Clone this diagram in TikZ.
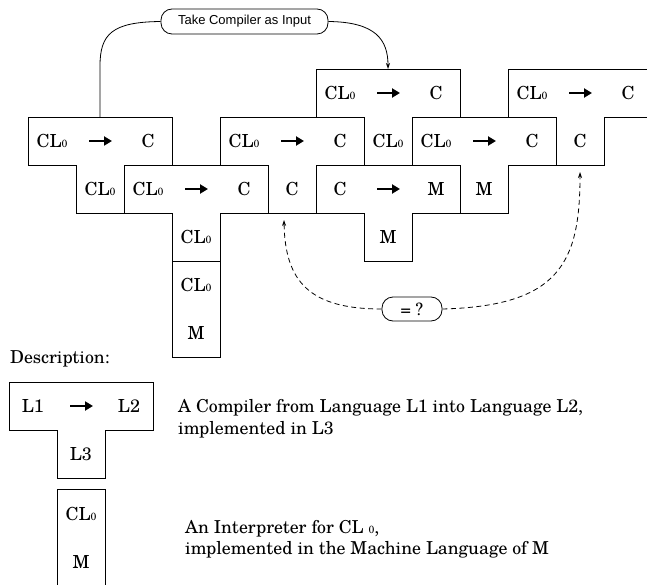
\documentclass[tikz,border=0pt]{standalone}
\usepackage{fontspec}
\setmainfont{TeX Gyre Schola}
\newfontfamily\tagfont{Liberation Sans}
\usetikzlibrary{arrows.meta}

% small index digit of the language name CL0
\newcommand\zsub{{\fontsize{10.5}{10.5}\selectfont 0}}
\newcommand\CLz{CL\zsub}

\tikzset{
  shape line/.style={draw=black, line width=0.8pt, line join=miter},
  lbl/.style={inner sep=0pt, font=\fontsize{18}{18}\selectfont},
  flow arrow/.style={line width=2.4pt, -{Triangle[length=8pt,width=9pt]}},
  tag/.style={draw, line width=0.8pt, rounded corners=11pt, inner sep=0pt},
  link/.style={line width=0.8pt},
  cmp link/.style={line width=0.8pt, dash pattern=on 5pt off 3.5pt, -{Stealth[length=6pt,width=4pt]}},
  desc/.style={anchor=base west, inner sep=0pt, font=\fontsize{17.8}{17.8}\selectfont},
}

% T-diagram: name, x, y (top left), source, target, implementation language, cell width
\newcommand\Tdiag[7]{%
  \draw[shape line] (#2,#3) -- ++(3*#7,0) -- ++(0,48) -- ++(-#7,0) -- ++(0,48)
    -- ++(-#7,0) -- ++(0,-48) -- ++(-#7,0) -- cycle;
  \node[lbl] (#1-src) at (#2+0.5*#7,#3+24) {#4};
  \node[lbl] (#1-dst) at (#2+2.5*#7,#3+24) {#5};
  \node[lbl] (#1-imp) at (#2+1.5*#7,#3+72) {#6};
  \coordinate (#1-top) at (#2+1.5*#7,#3);
  \draw[flow arrow] (#2+1.5*#7-11,#3+24) -- (#2+1.5*#7+12,#3+24);
}

\begin{document}
\begin{tikzpicture}[x=1pt,y=-1pt]
\useasboundingbox (0,0) rectangle (647,585);

% compiler chain
\Tdiag{ta}{28}{117}{\CLz}{C}{\CLz}{48}
\Tdiag{tb}{124}{165}{\CLz}{C}{\CLz}{48}
\Tdiag{tc}{220}{117}{\CLz}{C}{C}{48}
\Tdiag{td}{316}{69}{\CLz}{C}{\CLz}{48}
\Tdiag{te}{412}{117}{\CLz}{C}{M}{48}
\Tdiag{tf}{508}{69}{\CLz}{C}{C}{48}
\Tdiag{tg}{316}{165}{C}{M}{M}{48}

% interpreter under the chain
\draw[shape line] (172,261) rectangle (220,357);
\node[lbl] (ia-lang) at (196,285) {\CLz};
\node[lbl] (ia-mach) at (196,333) {M};

% annotations
\node[tag, minimum width=167pt, minimum height=25pt, font=\tagfont\fontsize{13}{13}\selectfont]
  (inp) at (244.5,21.5) {Take Compiler as Input};
\draw[link] (inp.west) .. controls (112,22) and (100,34) .. (100,66) -- (ta-top);
\draw[link, -{Stealth[length=6pt,width=4pt]}] (inp.east) .. controls (376,22) and (388,40) .. (td-top);

\node[tag, minimum width=60pt, minimum height=24pt, font=\fontsize{17}{17}\selectfont]
  (eq) at (412,309) {= ?};
\coordinate (cmpA) at (284,220);
\coordinate (cmpB) at (580,172);
\draw[cmp link] (eq.west) .. controls (310,309) and (285,282) .. (cmpA);
\draw[cmp link] (eq.east) .. controls (560,306) and (580,262) .. (cmpB);

% legend
\node[desc] (dtitle) at (10,363) {Description:};
\Tdiag{lt}{9}{382}{L1}{L2}{L3}{48}
\node[desc] (dcomp1) at (178,412) {A Compiler from Language L1 into Language L2,};
\node[desc] (dcomp2) at (178,434) {implemented in L3};
\draw[shape line] (57,489) rectangle (105,587);
\node[lbl] (li-lang) at (81,514) {\CLz};
\node[lbl] (li-mach) at (81,562) {M};
\node[desc] (dint1) at (185,533) {An Interpreter for CL \zsub,};
\node[desc] (dint2) at (185,554) {implemented in the Machine Language of M};
\end{tikzpicture}
\end{document}
